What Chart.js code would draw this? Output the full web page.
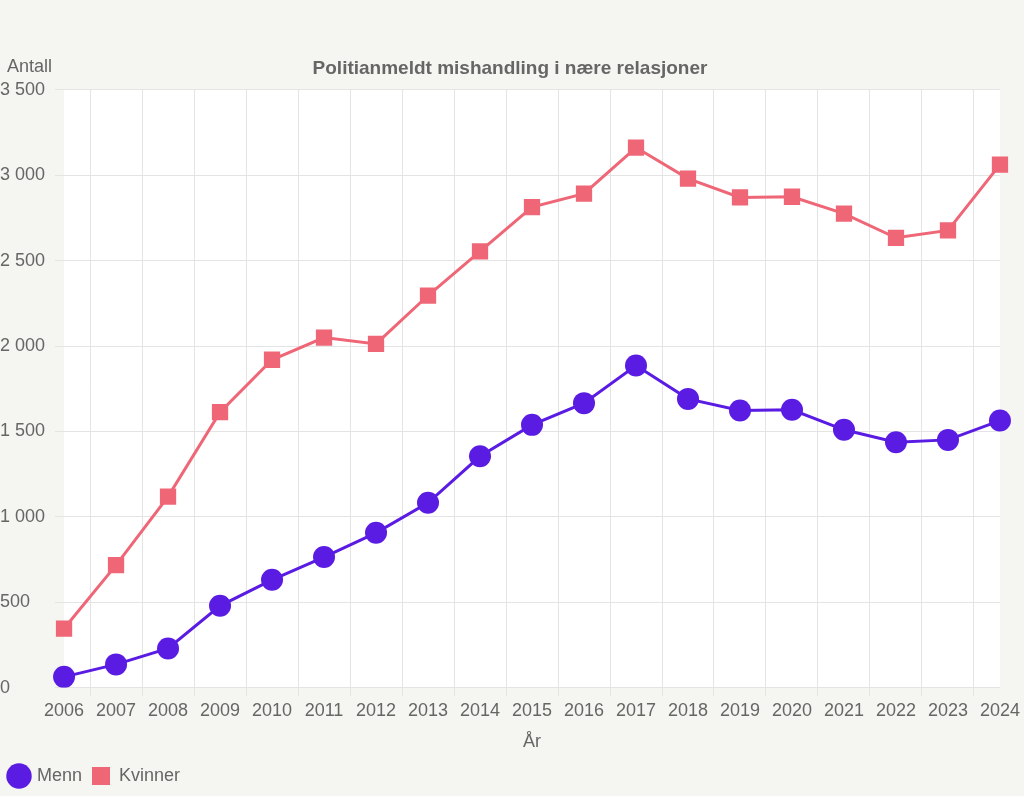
<!DOCTYPE html>
<html>
<head>
<meta charset="utf-8">
<script src="https://cdn.jsdelivr.net/npm/chart.js@4/dist/chart.umd.min.js"></script>
<style>
  html, body { margin: 0; padding: 0; background: #f5f5f1; }
  #wrap { width: 1024px; height: 796px; }
</style>
</head>
<body>
<div id="wrap"><canvas id="myChart"></canvas></div>
<script>
// years and counts
var years = ["2006","2007","2008","2009","2010","2011","2012","2013","2014","2015",
             "2016","2017","2018","2019","2020","2021","2022","2023","2024"];
var menn = [64, 137, 230, 480, 632, 765, 907, 1083, 1355, 1539,
            1666, 1886, 1691, 1623, 1627, 1510, 1437, 1451, 1564];
var kvinner = [347, 718, 1119, 1613, 1920, 2050, 2013, 2296, 2554, 2814,
               2892, 3162, 2980, 2870, 2874, 2775, 2634, 2677, 3062];

var textGrey = "#666666";
var fontFam = "'Liberation Sans', Arial, sans-serif";

function spaced(v) {
  return String(v).replace(/\B(?=(\d{3})+(?!\d))/g, " ");
}

// white plot area + "Antall" label above the y axis
var extras = {
  id: "extras",
  beforeDraw: function (chart) {
    var ctx = chart.ctx, a = chart.chartArea;
    ctx.save();
    ctx.fillStyle = "#ffffff";
    ctx.fillRect(a.left, a.top, a.right - a.left, a.bottom - a.top);
    ctx.restore();
  },
  afterDraw: function (chart) {
    var ctx = chart.ctx;
    ctx.save();
    ctx.fillStyle = textGrey;
    ctx.font = "18px " + fontFam;
    ctx.textBaseline = "middle";
    ctx.textAlign = "left";
    ctx.fillText("Antall", 7, 67);
    ctx.restore();
  }
};

new Chart("myChart", {
  type: "line",
  data: {
    labels: years,
    datasets: [{
      label: "Menn",
      data: menn,
      borderColor: "#5a1be3",
      backgroundColor: "#5a1be3",
      borderWidth: 3,
      pointStyle: "circle",
      pointRadius: 11,
      pointHoverRadius: 11,
      pointBorderWidth: 0
    }, {
      label: "Kvinner",
      data: kvinner,
      borderColor: "#ef6677",
      backgroundColor: "#ef6677",
      borderWidth: 3,
      pointStyle: "rect",
      pointRadius: 11.5,
      pointHoverRadius: 11.5,
      pointBorderWidth: 0
    }]
  },
  options: {
    responsive: true,
    maintainAspectRatio: false,
    animation: false,
    layout: { padding: { top: 57, left: 0, right: 4, bottom: 1 } },
    plugins: {
      title: {
        display: true,
        text: "Politianmeldt mishandling i nære relasjoner",
        color: textGrey,
        font: { family: fontFam, size: 19, weight: "bold" },
        padding: { top: 0, bottom: 10 }
      },
      legend: {
        position: "bottom",
        align: "start",
        labels: {
          usePointStyle: true,
          color: textGrey,
          font: { family: fontFam, size: 18 },
          padding: 10
        }
      },
      tooltip: { enabled: false }
    },
    scales: {
      x: {
        offset: false,
        grid: { offset: true, color: "#e4e4e4", tickLength: 8 },
        border: { display: false },
        ticks: { color: textGrey, font: { family: fontFam, size: 18 }, maxRotation: 0, autoSkip: false, padding: 4 },
        title: {
          display: true, text: "År", color: textGrey,
          font: { family: fontFam, size: 18 }, padding: { top: 6, bottom: 4 }
        }
      },
      y: {
        min: 0,
        max: 3500,
        grid: { color: "#e4e4e4", tickLength: 9 },
        border: { display: false },
        ticks: {
          stepSize: 500,
          color: textGrey,
          font: { family: fontFam, size: 18 },
          crossAlign: "far",
          padding: 5,
          callback: function (v) { return spaced(v); }
        }
      }
    }
  },
  plugins: [extras]
});
</script>
</body>
</html>
